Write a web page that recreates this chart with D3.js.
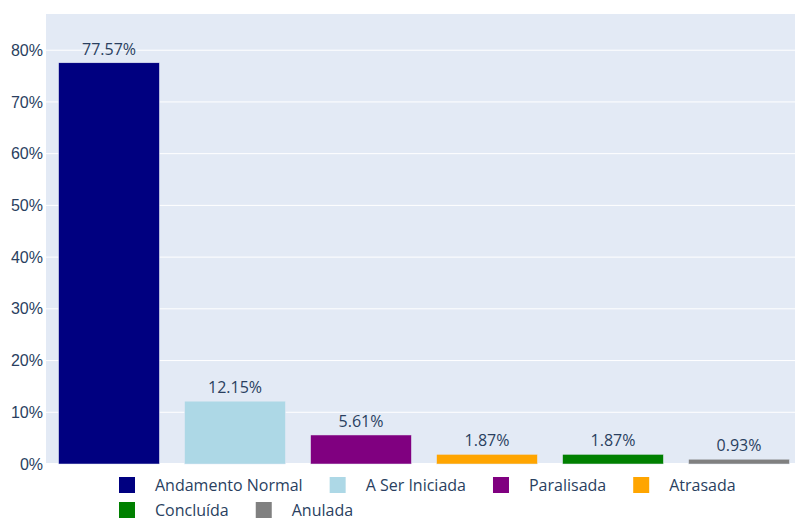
<!DOCTYPE html>
<html>
<head>
<meta charset="utf-8">
<script src="https://cdn.jsdelivr.net/npm/d3@7"></script>
<style>
  body { margin: 0; background: #fff; }
  svg { display: block; font-family: "Open Sans", verdana, arial, sans-serif; }
</style>
</head>
<body>
<div id="container"></div>
<script>
// data
var categories = ["Andamento Normal", "A Ser Iniciada", "Paralisada", "Atrasada", "Concluída", "Anulada"]
var values = [77.57, 12.15, 5.61, 1.87, 1.87, 0.93]
var colors = ["#000080", "#add8e6", "#800080", "#ffa500", "#008000", "#808080"]
var yTicks = [0, 10, 20, 30, 40, 50, 60, 70, 80]

var width = 795, height = 521
var margin = { top: 14, right: -7, bottom: 57, left: 46 }
var innerW = width - margin.left - margin.right,
    innerH = height - margin.top - margin.bottom

var svg = d3.select("#container").append("svg")
    .attr("width", width)
    .attr("height", height)

var textColor = "#2a3f5f"

var x = d3.scaleBand()
    .domain(categories)
    .range([margin.left, margin.left + innerW])
    .paddingInner(0.2)
    .paddingOuter(0.1)

var y = d3.scaleLinear()
    .domain([0, 87])
    .range([margin.top + innerH, margin.top])

// plot background
svg.append("rect")
    .attr("x", margin.left)
    .attr("y", margin.top)
    .attr("width", innerW)
    .attr("height", innerH)
    .attr("fill", "#e3eaf5")

// grid
svg.append("g")
  .selectAll("line")
  .data(yTicks)
  .enter().append("line")
    .attr("x1", margin.left)
    .attr("x2", margin.left + innerW)
    .attr("y1", function(d){ return y(d) })
    .attr("y2", function(d){ return y(d) })
    .attr("stroke", "#fff")
    .attr("stroke-width", function(d){ return d === 0 ? 2 : 1 })

// y axis
var yAxis = svg.append("g")
    .attr("transform", "translate(" + (margin.left - 3) + ",0)")
    .call(d3.axisLeft(y).tickValues(yTicks).tickSize(0).tickPadding(0)
      .tickFormat(function(d){ return d + "%" }))
yAxis.select(".domain").remove()
yAxis.selectAll("text")
    .attr("fill", textColor)
    .style("font-size", "16px")

// bars
svg.append("g")
  .selectAll("rect")
  .data(values)
  .enter().append("rect")
    .attr("x", function(d, i){ return x(categories[i]) })
    .attr("width", x.bandwidth())
    .attr("y", function(d){ return y(d) })
    .attr("height", function(d){ return y(0) - y(d) })
    .attr("fill", function(d, i){ return colors[i] })
    .attr("stroke", "#e3eaf5")
    .attr("stroke-width", 0.5)

// value labels
svg.append("g")
  .selectAll("text")
  .data(values)
  .enter().append("text")
    .attr("x", function(d, i){ return x(categories[i]) + x.bandwidth() / 2 })
    .attr("y", function(d){ return y(d) - 8 })
    .attr("text-anchor", "middle")
    .attr("fill", textColor)
    .style("font-size", "16px")
    .text(function(d){ return d.toFixed(2) + "%" })

// legend, wrapping items
var legend = svg.append("g")
var lx = 119, ly = 485, rowH = 25, maxX = width
categories.forEach(function(c, i){
  var item = legend.append("g")
  item.append("rect")
      .attr("width", 16)
      .attr("height", 16)
      .attr("y", -8)
      .attr("fill", colors[i])
  var t = item.append("text")
      .attr("x", 36)
      .attr("dy", "0.35em")
      .attr("fill", textColor)
      .style("font-size", "16px")
      .text(c)
  var w = 36 + t.node().getComputedTextLength()
  if (lx + w > maxX) { lx = 119; ly += rowH }
  item.attr("transform", "translate(" + lx + "," + ly + ")")
  lx += w + 27
})
</script>
</body>
</html>
